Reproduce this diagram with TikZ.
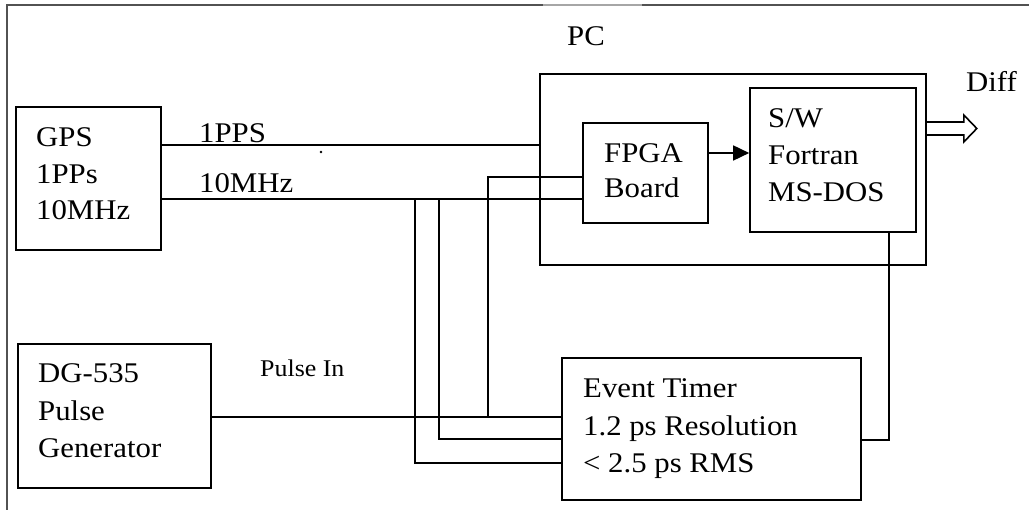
\documentclass[tikz,border=0pt]{standalone}
\usepackage{fontspec}
\setmainfont[FakeStretch=1.08]{Liberation Serif}
\usetikzlibrary{arrows.meta}

\begin{document}
\begin{tikzpicture}[x=1pt,y=-1pt,
  box/.style={draw, line width=1.6pt, inner sep=0pt, minimum width=#1},
  wire/.style={line width=1.6pt},
  frameline/.style={line width=1.6pt, draw=black!68},
  txt/.style={inner sep=0pt, anchor=base west, font=\fontsize{28.5}{37}\selectfont},
  smalltxt/.style={inner sep=0pt, anchor=base west, font=\fontsize{24}{28}\selectfont}]

\useasboundingbox (0,0) rectangle (1029,510);

% page frame (top and left edges only)
\draw[frameline] (1029,5) -- (7,5) -- (7,510);
\draw[line width=1.6pt, draw=black!35] (543,5) -- (642,5);

% blocks
\node[box=145pt, minimum height=143pt] (gps)   at (88.5,178.5) {};
\node[box=193pt, minimum height=144pt] (dg)    at (114.5,416)  {};
\node[box=386pt, minimum height=191pt] (pc)    at (733,169.5)  {};
\node[box=125pt, minimum height=100pt] (fpga)  at (645.5,173)  {};
\node[box=166pt, minimum height=144pt] (sw)    at (833,160)    {};
\node[box=299pt, minimum height=142pt] (timer) at (711.5,429)  {};

% block texts
\node[txt] (gpstext)   at (36,147)  {\vtop{\baselineskip=36.5pt\hbox{GPS}\hbox{1PPs}\hbox{10MHz}}};
\node[txt] (dgtext)    at (38,383)  {\vtop{\baselineskip=37.5pt\hbox{DG-535}\hbox{Pulse}\hbox{Generator}}};
\node[txt] (fpgatext)  at (604,163) {\vtop{\baselineskip=35pt\hbox{FPGA}\hbox{Board}}};
\node[txt] (swtext)    at (768,128) {\vtop{\baselineskip=37pt\hbox{S/W}\hbox{Fortran}\hbox{MS-DOS}}};
\node[txt] (timertext) at (583,398) {\vtop{\baselineskip=37.5pt\hbox{Event Timer}\hbox{1.2 ps Resolution}\hbox{< 2.5 ps RMS}}};

% labels
\node[txt] (pclabel)   at (567,46)  {PC};
\node[txt] (difflabel) at (966,92)  {Diff};
\node[txt] (ppslabel)  at (199,143) {1PPS};
\node[txt] (mhzlabel)  at (199,193) {10MHz};
\node[smalltxt] (pulselabel) at (260,377) {Pulse In};

% GPS outputs
\draw[wire] (gps.east |- 0,145) -- (pc.west |- 0,145);
\draw[wire] (gps.east |- 0,199) -- (fpga.west |- 0,199);

% pulse generator to event timer, with branch to the FPGA board
\draw[wire] (dg.east |- 0,417) -- (timer.west |- 0,417);
\coordinate (tapA) at (488,417);
\draw[wire] (fpga.west |- 0,177) -| (tapA);

% 10 MHz taps into the event timer
\coordinate (tapB) at (439,199);
\coordinate (tapC) at (415,199);
\draw[wire] (tapB) |- (timer.west |- 0,439);
\draw[wire] (tapC) |- (timer.west |- 0,463);

% event timer back to the software
\draw[wire] (timer.east |- 0,440) -| (sw.south -| 889,0);

% FPGA board to software
\draw[wire, -{Triangle[length=16pt,width=15pt]}] (fpga.east |- 0,153) -- (sw.west |- 0,153);

% hollow output arrow
\coordinate (da) at (pc.east |- 0,128.5);
\draw[wire, line join=miter] (da) ++(0,-6.5) -- ++(37,0) -- ++(0,-7) -- ++(13,13.5)
  -- ++(-13,13.5) -- ++(0,-7) -- ++(-37,0);

% stray dot
\fill (321,152) circle (1.3);
\end{tikzpicture}
\end{document}
